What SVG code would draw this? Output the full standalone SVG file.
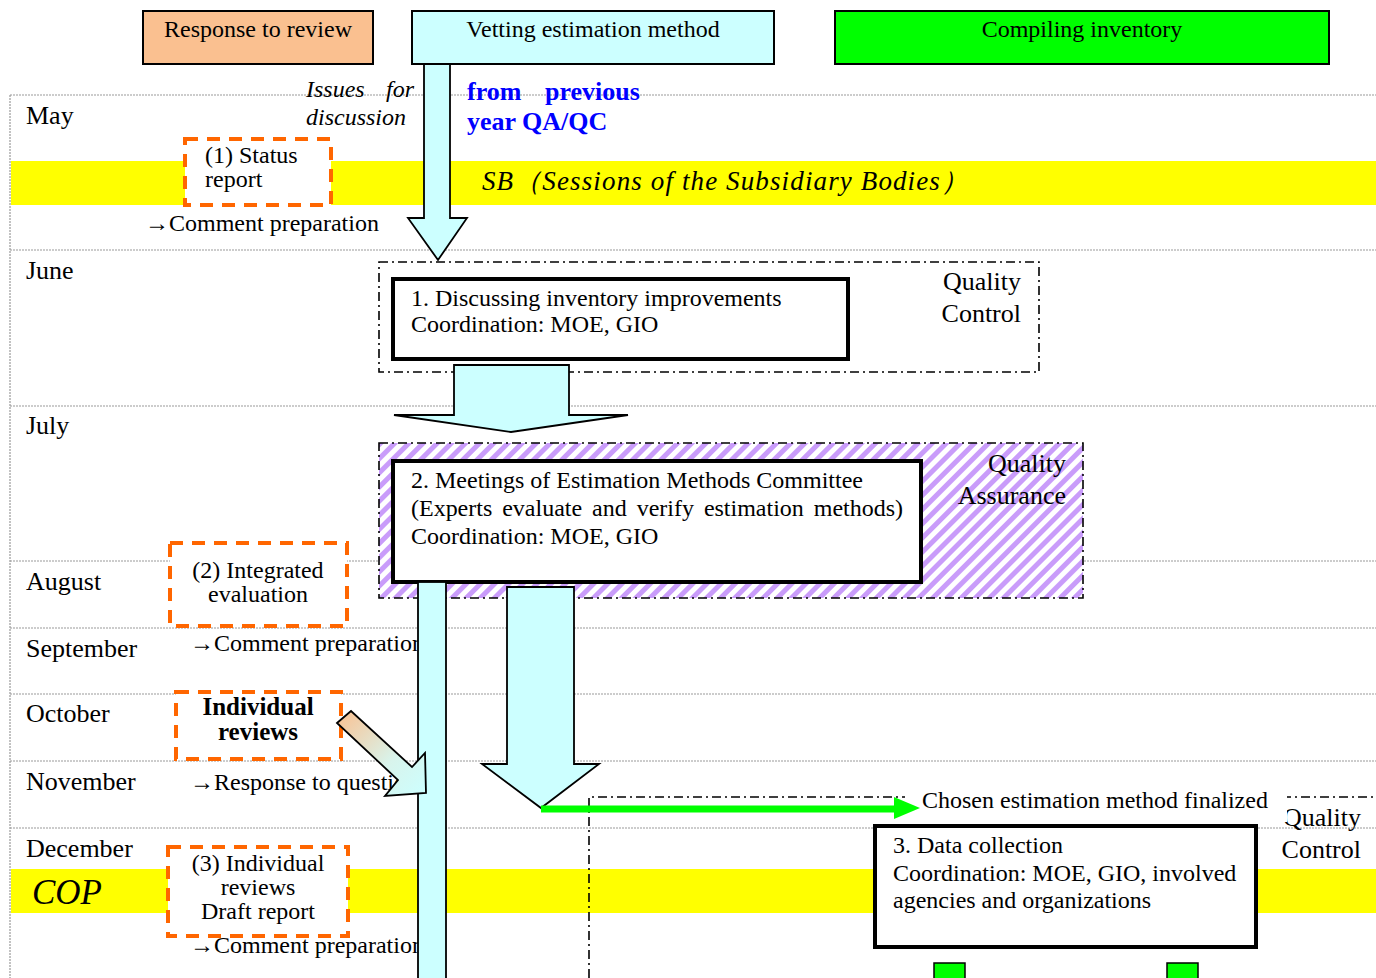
<svg xmlns="http://www.w3.org/2000/svg" width="1376" height="978" viewBox="0 0 1376 978">
<style>
text{font-family:"Liberation Serif","Times New Roman",serif;fill:#000}
.t{font-size:24px}
.m{font-size:26px}
.hd{font-size:24px;text-anchor:middle}
.grid{stroke:#9a9a9a;stroke-width:1.2;stroke-dasharray:2,1;fill:none}
.orange{fill:#fff;stroke:#FF6600;stroke-width:4;stroke-dasharray:13,9}
.dd{fill:none;stroke:#000;stroke-width:1.6;stroke-dasharray:9,4,2,4}
.box{fill:#fff;stroke:#000;stroke-width:4}
.cy{fill:#CCFFFF;stroke:#000;stroke-width:1.8;stroke-linejoin:miter}
.yel{fill:#FFFF00}
.it{font-style:italic}
.c{text-anchor:middle}
.r{text-anchor:end}
.blue{font-size:26px;font-weight:bold;fill:#0000FF}
</style>
<defs>
<pattern id="stripes" width="10" height="10" patternUnits="userSpaceOnUse" patternTransform="rotate(45)">
<rect width="10" height="10" fill="#fff"/>
<rect width="5" height="10" fill="#C99CFA"/>
</pattern>
<linearGradient id="diag" x1="0" y1="0" x2="1" y2="1">
<stop offset="0" stop-color="#FAC090"/>
<stop offset="0.6" stop-color="#D8F4EC"/>
<stop offset="1" stop-color="#CCFFFF"/>
</linearGradient>
</defs>

<g id="grid">
<line class="grid" x1="10" y1="95" x2="1376" y2="95"/>
<line class="grid" x1="10" y1="250" x2="1376" y2="250"/>
<line class="grid" x1="10" y1="406" x2="1376" y2="406"/>
<line class="grid" x1="10" y1="561" x2="1376" y2="561"/>
<line class="grid" x1="10" y1="628" x2="1376" y2="628"/>
<line class="grid" x1="10" y1="694" x2="1376" y2="694"/>
<line class="grid" x1="10" y1="761" x2="1376" y2="761"/>
<line class="grid" x1="10" y1="828" x2="1376" y2="828"/>
<line class="grid" x1="10" y1="95" x2="10" y2="978"/>
</g>

<g id="bands">
<rect class="yel" x="11" y="161" width="1365" height="44"/>
<rect class="yel" x="11" y="869" width="1365" height="44"/>
</g>

<g id="months">
<text class="m" x="26" y="124">May</text>
<text class="m" x="26" y="279">June</text>
<text class="m" x="26" y="434">July</text>
<text class="m" x="26" y="590">August</text>
<text class="m" x="26" y="657">September</text>
<text class="m" x="26" y="722">October</text>
<text class="m" x="26" y="790">November</text>
<text class="m" x="26" y="857">December</text>
</g>

<g id="header-response">
<rect x="143" y="11" width="230" height="53" fill="#FAC090" stroke="#000" stroke-width="2"/>
<text class="hd" x="258" y="37">Response to review</text>
</g>
<g id="header-vetting">
<rect x="412" y="11" width="362" height="53" fill="#CCFFFF" stroke="#000" stroke-width="2"/>
<text class="hd" x="593" y="37">Vetting estimation method</text>
</g>
<g id="header-compiling">
<rect x="835" y="11" width="494" height="53" fill="#00FF00" stroke="#000" stroke-width="2"/>
<text class="hd" x="1082" y="37">Compiling inventory</text>
</g>

<g id="issues-label">
<text class="t it" x="306" y="97">Issues<tspan x="386">for</tspan></text>
<text class="t it" x="306" y="125">discussion</text>
</g>
<g id="qaqc-label">
<text class="blue" x="467" y="100">from<tspan x="545">previous</tspan></text>
<text class="blue" x="467" y="130">year QA/QC</text>
</g>
<g id="sb-label">
<text class="it" x="482" y="190" font-size="27" textLength="486" lengthAdjust="spacing">SB（Sessions of the Subsidiary Bodies）</text>
</g>

<g id="status-report">
<rect class="orange" x="185" y="139" width="146" height="66"/>
<text class="t" x="205" y="163">(1) Status</text>
<text class="t" x="205" y="187">report</text>
</g>
<text class="t" x="145" y="231">→Comment preparation</text>

<g id="qc-frame-1">
<rect class="dd" x="379" y="262" width="660" height="110"/>
<text class="m r" x="1021" y="290">Quality</text>
<text class="m r" x="1021" y="322">Control</text>
</g>
<g id="step-1">
<rect class="box" x="393" y="279" width="455" height="80"/>
<text class="t" x="411" y="306">1. Discussing inventory improvements</text>
<text class="t" x="411" y="332">Coordination: MOE, GIO</text>
</g>

<g id="qa-frame">
<rect x="379" y="443" width="704" height="155" fill="url(#stripes)"/>
<rect class="dd" x="379" y="443" width="704" height="155"/>
<text class="m r" x="1066" y="472">Quality</text>
<text class="m r" x="1066" y="504">Assurance</text>
</g>
<g id="step-2">
<rect class="box" x="393" y="461" width="528" height="121"/>
<text class="t" x="411" y="488">2. Meetings of Estimation Methods Committee</text>
<text class="t" x="411" y="516" textLength="492" lengthAdjust="spacing" word-spacing="4">(Experts evaluate and verify estimation methods)</text>
<text class="t" x="411" y="544">Coordination: MOE, GIO</text>
</g>

<g id="integrated-evaluation">
<rect class="orange" x="170" y="543" width="177" height="83"/>
<text class="t c" x="258" y="578">(2) Integrated</text>
<text class="t c" x="258" y="602">evaluation</text>
</g>
<text class="t" x="190" y="651">→Comment preparation</text>

<g id="individual-reviews">
<rect class="orange" x="176" y="692" width="165" height="67"/>
<text class="c" x="258" y="715" font-size="25" font-weight="bold">Individual</text>
<text class="c" x="258" y="740" font-size="25" font-weight="bold">reviews</text>
</g>
<text class="t" x="190" y="790">→Response to questions</text>

<g id="draft-report">
<rect class="orange" x="168" y="847" width="180" height="89"/>
<text class="t c" x="258" y="871">(3) Individual</text>
<text class="t c" x="258" y="895">reviews</text>
<text class="t c" x="258" y="919">Draft report</text>
</g>
<text class="t" x="190" y="953">→Comment preparation</text>

<g id="cop-label">
<text class="it" x="32" y="904" font-size="35">COP</text>
</g>

<g id="qc-frame-3">
<polyline class="dd" points="589,978 589,797 1376,797"/>
<text class="m r" x="1361" y="826">Quality</text>
<text class="m r" x="1361" y="858">Control</text>
<rect x="905" y="785" width="382" height="37" fill="#fff"/>
<text class="t" x="922" y="808">Chosen estimation method finalized</text>
</g>

<g id="connectors">
<polygon class="cy" points="424,64 450,64 450,218 467,218 438,260 408,218 424,218"/>
<polygon class="cy" points="454,365 569,365 569,415 628,415 511,432 394,415 454,415"/>
<rect class="cy" x="418" y="582" width="28" height="400"/>
<polygon class="cy" points="507,587 574,587 574,764 599,764 541,808 482,764 507,764"/>
<polygon points="337,723 351,711 412,767 425,753 426,793 385,796 398,780" fill="url(#diag)" stroke="#000" stroke-width="1.8"/>
<line x1="541" y1="809" x2="897" y2="809" stroke="#00FF00" stroke-width="7"/>
<polygon points="894,797 920,808 894,819" fill="#00FF00"/>
</g>

<g id="step-3">
<rect class="box" x="875" y="826" width="381" height="121"/>
<text class="t" x="893" y="853">3. Data collection</text>
<text class="t" x="893" y="881">Coordination: MOE, GIO, involved</text>
<text class="t" x="893" y="908">agencies and organizations</text>
</g>

<g id="green-squares">
<rect x="934" y="963" width="31" height="20" fill="#00FF00" stroke="#000" stroke-width="1.5"/>
<rect x="1167" y="963" width="31" height="20" fill="#00FF00" stroke="#000" stroke-width="1.5"/>
</g>
</svg>
